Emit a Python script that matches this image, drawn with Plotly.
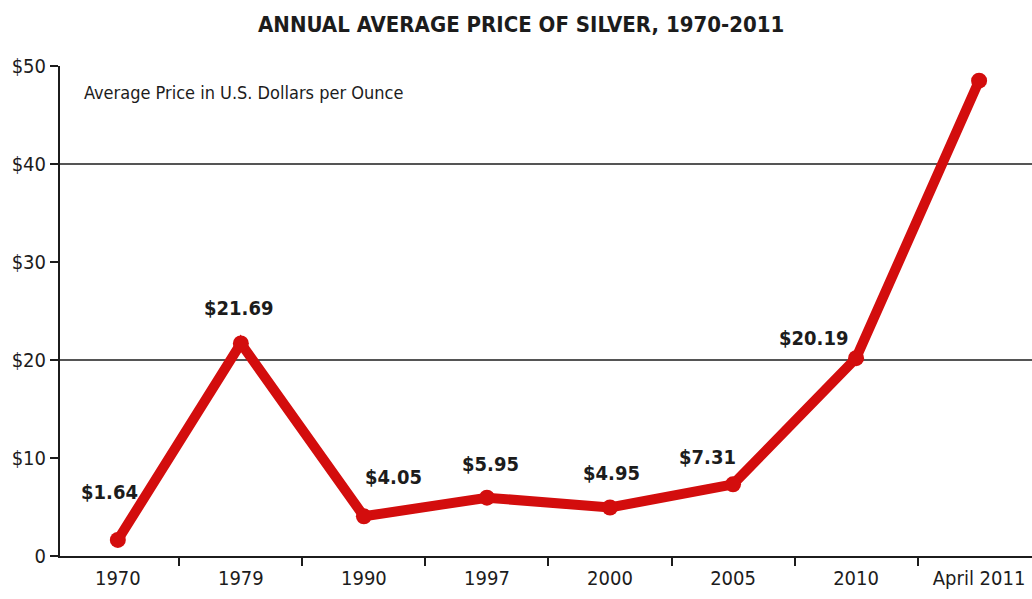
import plotly.graph_objects as go

# Annual average silver price, US dollars per ounce
years = ["1970", "1979", "1990", "1997", "2000", "2005", "2010", "April 2011"]
prices = [1.64, 21.69, 4.05, 5.95, 4.95, 7.31, 20.19, 48.5]
labelled = [True, True, True, True, True, True, True, False]

y_ticks = [0, 10, 20, 30, 40, 50]
y_tick_text = ["0", "$10", "$20", "$30", "$40", "$50"]
grid_levels = [20, 40]

# pixel offsets of each value label from its point
label_dx = [-8, -2, 30, 4, 2, -26, -43, 0]
label_dy = [48, 35, 39, 34, 34, 27, 20, 0]

FONT = "Liberation Sans Narrow, DejaVu Sans Condensed, Arial Narrow, sans-serif"
RED = "#d30d0d"
INK = "#1c1c1c"

fig = go.Figure()
fig.add_trace(go.Scatter(
    x=years, y=prices, mode="lines+markers",
    line=dict(color=RED, width=10),
    marker=dict(color=RED, size=16),
    cliponaxis=False, hoverinfo="x+y", showlegend=False,
))

for lvl in grid_levels:
    fig.add_shape(type="line", xref="paper", yref="y", x0=0, x1=1, y0=lvl, y1=lvl,
                  line=dict(color=INK, width=1.6), layer="below")

# value labels, placed by category index on the x axis
for i, (p, show, dx, dy) in enumerate(zip(prices, labelled, label_dx, label_dy)):
    if not show:
        continue
    fig.add_annotation(x=i, y=p, xref="x", yref="y", text=f"<b>${p:.2f}</b>",
                       showarrow=False, xshift=dx, yshift=dy,
                       font=dict(family=FONT, size=20, color=INK))

fig.add_annotation(xref="paper", yref="paper", x=0.023, y=0.945, xanchor="left", yanchor="middle",
                   text="Average Price in U.S. Dollars per Ounce", showarrow=False,
                   font=dict(family=FONT, size=18, color=INK))

fig.update_layout(
    width=1032, height=599,
    margin=dict(l=60, r=0, t=66, b=43),
    paper_bgcolor="white", plot_bgcolor="white",
    title=dict(text="<b>ANNUAL AVERAGE PRICE OF SILVER, 1970-2011</b>",
               x=0.505, xanchor="center", y=0.96, yanchor="middle",
               font=dict(family=FONT, size=22, color=INK)),
    xaxis=dict(type="category", range=[-0.47, 7.43], showgrid=False,
               showline=True, linecolor=INK, linewidth=2,
               ticks="outside", tickson="boundaries", ticklen=8, tickwidth=1.6, tickcolor=INK,
               ticklabelstandoff=3,
               tickfont=dict(family=FONT, size=20, color=INK), zeroline=False),
    yaxis=dict(range=[0, 50], tickvals=y_ticks, ticktext=y_tick_text, showgrid=False,
               showline=True, linecolor=INK, linewidth=2,
               ticks="outside", ticklen=8, tickwidth=1.6, tickcolor=INK,
               tickfont=dict(family=FONT, size=20, color=INK), zeroline=False),
)

fig.write_html("out.html")
